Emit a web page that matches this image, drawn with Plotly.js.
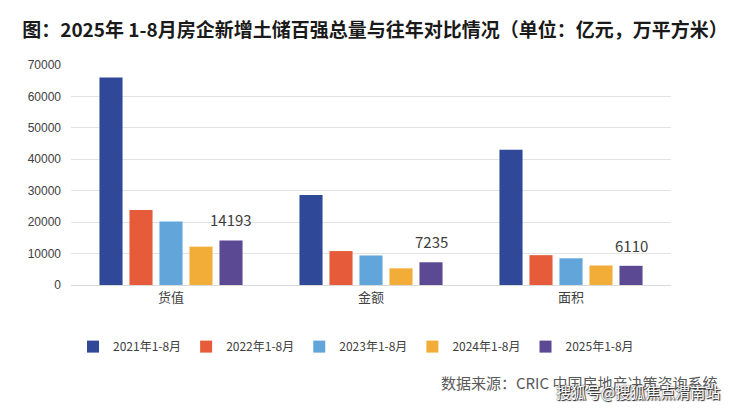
<!DOCTYPE html>
<html>
<head>
<meta charset="utf-8">
<script src="https://cdn.plot.ly/plotly-3.0.1.min.js"></script>
<style>
  html, body { margin: 0; padding: 0; background: #fff; }
  #chart { width: 740px; height: 409px; }
</style>
</head>
<body>
<div id="chart"></div>
<script>
const categories = ['货值', '金额', '面积'];
const seriesNames = ['2021年1-8月', '2022年1-8月', '2023年1-8月', '2024年1-8月', '2025年1-8月'];
const v2021 = [66000, 28600, 43000];
const v2022 = [23900, 10800, 9500];
const v2023 = [20200, 9400, 8500];
const v2024 = [12200, 5300, 6200];
const v2025 = [14193, 7235, 6110];
const yTicks = [0, 10000, 20000, 30000, 40000, 50000, 60000, 70000];

const colors = ['#2f4897', '#e65c3a', '#62a5da', '#f1ad38', '#5c4994'];
const seriesValues = [v2021, v2022, v2023, v2024, v2025];
const font = '"Noto Sans CJK SC", "Noto Sans", sans-serif';

const traces = seriesValues.map((vals, i) => ({
    type: 'bar',
    name: seriesNames[i],
    x: categories,
    y: vals,
    marker: { color: colors[i] },
    hoverinfo: 'x+y+name'
}));

// labels only on the 2025 bars, a bit above the bar top
const labels = categories.map((c, i) => ({
    x: c,
    y: v2025[i],
    xref: 'x',
    yref: 'y',
    text: String(v2025[i]),
    showarrow: false,
    xshift: 60,
    yshift: 8,
    yanchor: 'bottom',
    font: { family: font, size: 15, color: '#404040' }
}));

const notes = [
    {
        xref: 'paper', yref: 'paper',
        x: 1.08, y: -0.445, xanchor: 'right', yanchor: 'middle',
        text: '数据来源：CRIC 中国房地产决策咨询系统',
        showarrow: false,
        font: { family: font, size: 15, color: '#595959' }
    },
    {
        xref: 'paper', yref: 'paper',
        x: 1.085, y: -0.485, xanchor: 'right', yanchor: 'middle',
        text: '搜狐号@搜狐焦点渭南站',
        showarrow: false,
        font: { family: font, size: 15, color: '#ffffff', shadow: '0 0 2px #222, 1px 1px 1px #222' }
    }
];

const layout = {
    width: 740,
    height: 409,
    margin: { l: 71, r: 69, t: 65, b: 124 },
    paper_bgcolor: '#ffffff',
    plot_bgcolor: '#ffffff',
    title: {
        text: '<b>图：2025年 1-8月房企新增土储百强总量与往年对比情况（单位：亿元，万平方米）</b>',
        x: 0.03, xanchor: 'left',
        y: 0.927, yanchor: 'middle',
        font: { family: font, size: 19, color: '#1a1a1a' }
    },
    barmode: 'group',
    bargap: 0.25,
    bargroupgap: 0.23,
    xaxis: {
        type: 'category',
        showline: true,
        linecolor: '#d9d9d9',
        ticks: '',
        tickfont: { family: font, size: 13, color: '#404040' }
    },
    yaxis: {
        range: [0, 70000],
        tickvals: yTicks,
        ticktext: yTicks.map(String),
        gridcolor: '#e3e3e3',
        zeroline: false,
        ticks: '',
        ticklabelstandoff: 9,
        tickfont: { family: 'Liberation Sans, Arial, sans-serif', size: 12, color: '#404040' }
    },
    legend: {
        orientation: 'h',
        x: 0.475, xanchor: 'center',
        y: -0.28, yanchor: 'middle',
        font: { family: font, size: 12, color: '#404040' },
        itemwidth: 30
    },
    annotations: labels.concat(notes),
    showlegend: true
};

Plotly.newPlot('chart', traces, layout, { displayModeBar: false, responsive: false });
</script>
</body>
</html>
